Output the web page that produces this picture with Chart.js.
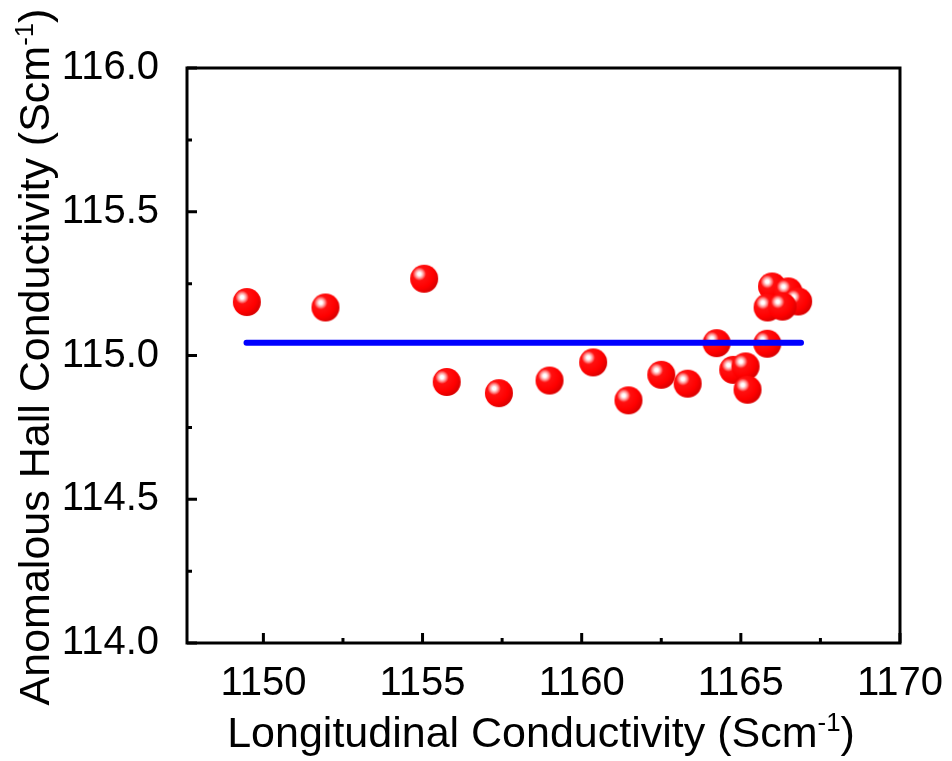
<!DOCTYPE html>
<html>
<head>
<meta charset="utf-8">
<script src="https://cdn.jsdelivr.net/npm/chart.js@4.4.1/dist/chart.umd.min.js"></script>
<style>
    html, body { margin: 0; padding: 0; background: #ffffff; }
    #hallChart { display: block; }
</style>
</head>
<body>
<canvas id="hallChart" width="952" height="761"></canvas>
<script>
// measured points (longitudinal vs anomalous hall conductivity)
const sigmaXX = [1149.48, 1151.95, 1155.05, 1155.76, 1157.40, 1158.99, 1160.36, 1161.47, 1162.50, 1163.33,
                 1164.24, 1164.76, 1165.15, 1165.21, 1165.83, 1165.98, 1166.49, 1166.80, 1165.84, 1166.31];
const sigmaAH = [115.186, 115.167, 115.267, 114.908, 114.869, 114.913, 114.976, 114.844, 114.933, 114.902,
                 115.043, 114.950, 114.962, 114.881, 115.041, 115.240, 115.223, 115.188, 115.167, 115.170];

// flat line through the average
const fitX = [1149.47, 1166.89];
const fitY = [115.044, 115.044];

const xTicks = [1150, 1155, 1160, 1165, 1170];
const xMinorTicks = [1152.5, 1157.5, 1162.5, 1167.5];
const yTicks = [114.0, 114.5, 115.0, 115.5, 116.0];
const yMinorTicks = [114.25, 114.75, 115.25, 115.75];

const FONT = '"Liberation Sans", Arial, sans-serif';

// shiny red ball used as point style
function makeBall(r) {
    const size = r * 2 + 2;
    const c = document.createElement('canvas');
    c.width = size;
    c.height = size;
    const g = c.getContext('2d');
    const cx = size / 2, cy = size / 2;
    const hx = cx - r * 0.34, hy = cy - r * 0.34;
    const grad = g.createRadialGradient(hx, hy, 0, hx, hy, r * 1.45);
    grad.addColorStop(0, '#ffffff');
    grad.addColorStop(0.08, '#ffffff');
    grad.addColorStop(0.2, '#ff9a9a');
    grad.addColorStop(0.33, '#ff1010');
    grad.addColorStop(0.7, '#ff0000');
    grad.addColorStop(1, '#d80000');
    g.beginPath();
    g.arc(cx, cy, r, 0, Math.PI * 2);
    g.fillStyle = grad;
    g.fill();
    return c;
}

// axis title with a superscript part
function drawRichText(ctx, parts, x, y, size) {
    let total = 0;
    parts.forEach(p => {
        ctx.font = (p.sup ? size * 0.6 : size) + 'px ' + FONT;
        p.w = ctx.measureText(p.text).width;
        total += p.w;
    });
    let cur = x - total / 2;
    parts.forEach(p => {
        ctx.font = (p.sup ? size * 0.6 : size) + 'px ' + FONT;
        ctx.fillText(p.text, cur, p.sup ? y - size * 0.38 : y);
        cur += p.w;
    });
}

const framePlugin = {
    id: 'frame',
    afterDatasetsDraw(chart) {
        const ctx = chart.ctx;
        const a = chart.chartArea;
        const xs = chart.scales.x, ys = chart.scales.y;
        ctx.save();
        ctx.strokeStyle = '#000000';
        ctx.lineWidth = 3;
        ctx.strokeRect(a.left, a.top, a.right - a.left, a.bottom - a.top);

        ctx.lineWidth = 3;
        ctx.lineCap = 'butt';
        ctx.beginPath();
        xTicks.forEach(v => {
            const px = xs.getPixelForValue(v);
            ctx.moveTo(px, a.bottom);
            ctx.lineTo(px, a.bottom - 10);
        });
        xMinorTicks.forEach(v => {
            const px = xs.getPixelForValue(v);
            ctx.moveTo(px, a.bottom);
            ctx.lineTo(px, a.bottom - 5);
        });
        yTicks.forEach(v => {
            const py = ys.getPixelForValue(v);
            ctx.moveTo(a.left, py);
            ctx.lineTo(a.left + 10, py);
        });
        yMinorTicks.forEach(v => {
            const py = ys.getPixelForValue(v);
            ctx.moveTo(a.left, py);
            ctx.lineTo(a.left + 5, py);
        });
        ctx.stroke();

        ctx.fillStyle = '#000000';
        ctx.textBaseline = 'alphabetic';
        ctx.textAlign = 'left';
        drawRichText(ctx, [
            { text: 'Longitudinal Conductivity (Scm' },
            { text: '-1', sup: true },
            { text: ')' }
        ], 541, 747, 43);

        ctx.translate(49, 357);
        ctx.rotate(-Math.PI / 2);
        drawRichText(ctx, [
            { text: 'Anomalous Hall Conductivity (Scm' },
            { text: '-1', sup: true },
            { text: ')' }
        ], 0, 0, 43);
        ctx.restore();
    }
};

const ctx = document.getElementById('hallChart').getContext('2d');

const hallChartConfig = {
    type: 'scatter',
    data: {
        datasets: [
            {
                type: 'line',
                label: 'Average',
                data: fitX.map((x, i) => ({ x: x, y: fitY[i] })),
                borderColor: '#0000ff',
                borderWidth: 6,
                borderCapStyle: 'round',
                pointRadius: 0,
                fill: false,
                order: 0
            },
            {
                label: 'Data',
                data: sigmaXX.map((x, i) => ({ x: x, y: sigmaAH[i] })),
                pointStyle: makeBall(14),
                pointRadius: 14,
                order: 1
            }
        ]
    },
    options: {
        responsive: false,
        animation: false,
        devicePixelRatio: 1,
        layout: {
            padding: { left: 0, top: 68, right: 50, bottom: 0 }
        },
        plugins: {
            legend: { display: false },
            tooltip: { enabled: false },
            title: { display: false }
        },
        scales: {
            x: {
                type: 'linear',
                min: 1147.6,
                max: 1170,
                grid: { display: false },
                border: { display: false },
                afterBuildTicks: (scale) => {
                    scale.ticks = xTicks.map(v => ({ value: v }));
                },
                afterFit: (scale) => {
                    scale.height = 118;
                },
                ticks: {
                    padding: 9,
                    color: '#000000',
                    maxRotation: 0,
                    font: { family: FONT, size: 40 },
                    callback: (v) => String(v)
                }
            },
            y: {
                type: 'linear',
                min: 114,
                max: 116,
                grid: { display: false },
                border: { display: false },
                afterBuildTicks: (scale) => {
                    scale.ticks = yTicks.map(v => ({ value: v }));
                },
                afterFit: (scale) => {
                    scale.width = 187;
                },
                ticks: {
                    padding: 20,
                    color: '#000000',
                    font: { family: FONT, size: 40 },
                    callback: (v) => Number(v).toFixed(1)
                }
            }
        }
    },
    plugins: [framePlugin]
};

const hallChart = new Chart(ctx, hallChartConfig);
</script>
</body>
</html>
